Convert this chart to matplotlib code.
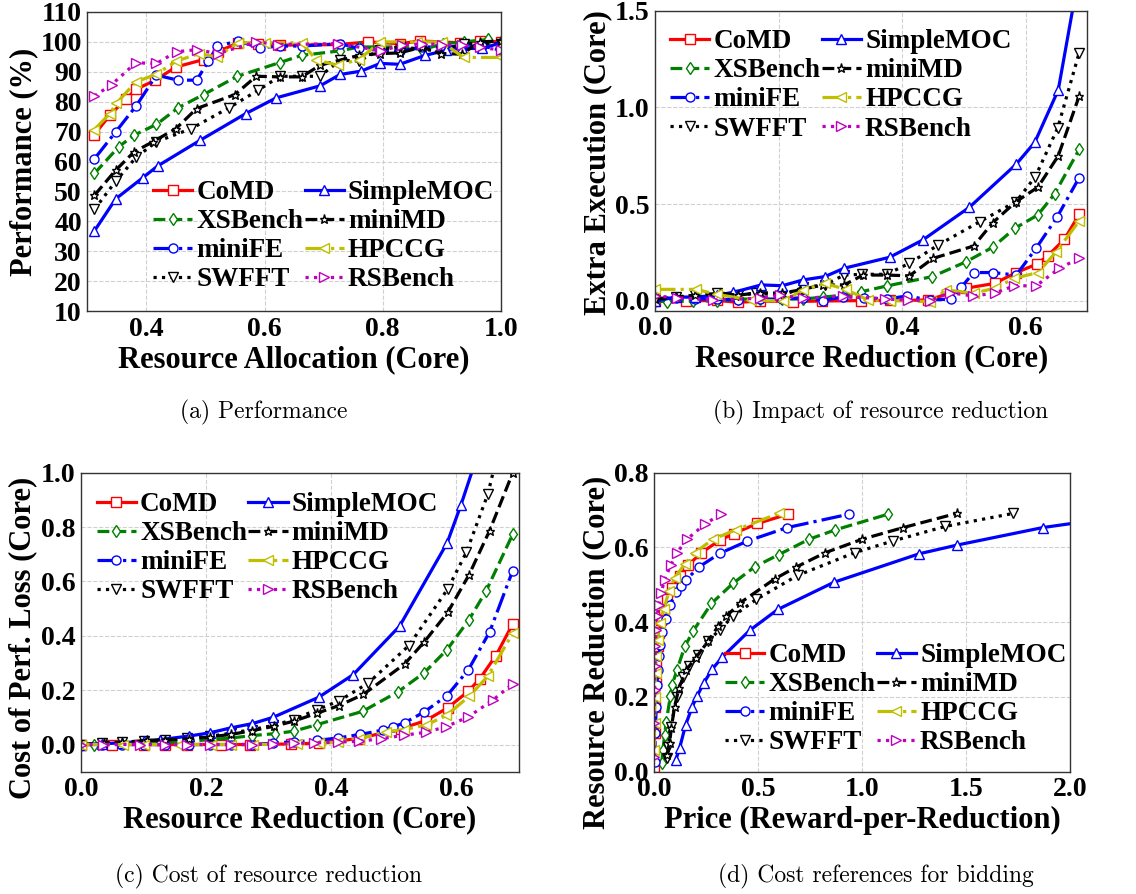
import matplotlib
matplotlib.use("Agg")
import matplotlib.pyplot as plt
from matplotlib.ticker import FormatStrFormatter

plt.rcParams['font.family'] = ['Liberation Serif', 'DejaVu Serif']
plt.rcParams['font.weight'] = 'bold'
plt.rcParams['axes.labelweight'] = 'bold'

ORDER = ["CoMD", "XSBench", "miniFE", "SWFFT", "SimpleMOC", "miniMD", "HPCCG", "RSBench"]

STYLES = {
    "CoMD": dict(color="r", ls="-", marker="s"),
    "XSBench": dict(color="g", ls="--", marker="d"),
    "miniFE": dict(color="b", ls="-.", marker="o"),
    "SWFFT": dict(color="k", ls=":", marker="v"),
    "SimpleMOC": dict(color="b", ls="-", marker="^"),
    "miniMD": dict(color="k", ls="--", marker="*"),
    "HPCCG": dict(color="y", ls="-.", marker="<"),
    "RSBench": dict(color="m", ls=":", marker=">"),
}

# (a) performance (%) vs. resource allocation (core)
perf = {
    "CoMD": ([0.312, 0.338, 0.365, 0.382, 0.415, 0.45, 0.497, 0.521, 0.555, 0.589, 0.626, 0.725, 0.776, 0.829, 0.864, 0.931, 0.965, 1.0],
             [69.0, 75.5, 80.8, 84.1, 87.2, 91.6, 94.1, 96.7, 99.7, 99.4, 98.9, 99.1, 100, 99.4, 100.3, 99.7, 100.3, 100]),
    "SimpleMOC": ([0.312, 0.348, 0.394, 0.419, 0.491, 0.568, 0.62, 0.694, 0.728, 0.763, 0.796, 0.829, 0.872, 0.908, 0.934, 0.969, 1.0],
                  [36.8, 47.5, 54.6, 58.5, 67.1, 76.0, 81.3, 85.3, 89.1, 90.2, 92.8, 92.5, 95.5, 97.2, 97.8, 97.8, 99.7]),
    "XSBench": ([0.312, 0.353, 0.379, 0.417, 0.454, 0.497, 0.554, 0.626, 0.663, 0.728, 0.76, 0.796, 0.832, 0.867, 0.903, 0.937, 0.979, 1.0],
                [56, 64.9, 68.8, 72.4, 78, 82.4, 88.5, 93.1, 95.5, 97, 98.3, 98.3, 98.3, 97.4, 99.4, 100, 100.8, 100]),
    "miniMD": ([0.312, 0.348, 0.379, 0.411, 0.45, 0.485, 0.55, 0.586, 0.626, 0.663, 0.694, 0.76, 0.796, 0.829, 0.867, 0.898, 0.934, 0.965, 1.0],
               [48.7, 57.1, 63.2, 66.6, 71, 77.7, 82.4, 88.5, 88.3, 88.3, 92.2, 95.5, 96.1, 96.3, 98.3, 96.1, 95.9, 100, 100.3]),
    "miniFE": ([0.312, 0.348, 0.383, 0.417, 0.453, 0.485, 0.505, 0.52, 0.555, 0.592, 0.626, 0.663, 0.728, 0.76, 0.796, 0.829, 0.867, 0.903, 0.937, 0.969, 1.0],
               [60.9, 69.9, 78.7, 88.9, 87.2, 87.2, 93.5, 98.6, 100.3, 98, 98.6, 98.6, 99.4, 97.8, 97.2, 96.9, 98.3, 98.3, 98.6, 98.6, 97.2]),
    "HPCCG": ([0.312, 0.338, 0.349, 0.382, 0.417, 0.45, 0.489, 0.519, 0.555, 0.6, 0.663, 0.688, 0.725, 0.76, 0.796, 0.858, 0.9, 0.937, 1.0],
              [70.7, 76, 79.4, 86.6, 89.2, 93.5, 96.1, 95, 99.7, 99.7, 99.7, 93.9, 92.2, 94.1, 100, 100, 100, 94.8, 94.8]),
    "SWFFT": ([0.312, 0.348, 0.383, 0.417, 0.476, 0.54, 0.589, 0.626, 0.663, 0.694, 0.728, 0.76, 0.796, 0.829, 0.898, 0.937, 1.0],
              [44, 53.4, 61.5, 66.6, 71, 78, 83.8, 88.5, 88.5, 88.5, 93.9, 93.6, 97.4, 98.3, 96.9, 99.4, 99.4]),
    "RSBench": ([0.312, 0.341, 0.382, 0.417, 0.451, 0.485, 0.521, 0.586, 0.623, 0.725, 0.798, 0.832, 0.867, 0.9, 0.934, 0.965, 1.0],
                [81.9, 85.7, 93, 92.8, 96.7, 97.4, 96.1, 100, 99.1, 99.4, 97, 98.9, 99.4, 99.1, 98.9, 98.3, 97.2]),
}

# (b) extra execution (core) vs. resource reduction (core)
extra = {
    "CoMD": ([0, 0.05, 0.1, 0.135, 0.17, 0.223, 0.27, 0.333, 0.38, 0.442, 0.504, 0.55, 0.585, 0.618, 0.636, 0.663, 0.687],
             [0.0, 0.0, 0.003, -0.007, 0.0, -0.003, 0.0, 0.002, 0.003, 0.005, 0.066, 0.091, 0.147, 0.19, 0.233, 0.319, 0.448]),
    "SimpleMOC": ([0, 0.034, 0.065, 0.1, 0.127, 0.172, 0.206, 0.24, 0.275, 0.306, 0.38, 0.434, 0.509, 0.585, 0.615, 0.653, 0.69],
                  [0.0, 0.02, 0.02, 0.03, 0.045, 0.083, 0.079, 0.109, 0.126, 0.169, 0.226, 0.316, 0.484, 0.707, 0.82, 1.09, 1.75]),
    "XSBench": ([0, 0.019, 0.062, 0.1, 0.134, 0.17, 0.206, 0.24, 0.272, 0.306, 0.334, 0.376, 0.449, 0.504, 0.547, 0.583, 0.62, 0.647, 0.687],
                [0.0, -0.003, 0.0, 0.0, 0.01, 0.01, 0.01, 0.01, 0.02, 0.03, 0.048, 0.078, 0.126, 0.203, 0.278, 0.376, 0.445, 0.553, 0.784]),
    "miniMD": ([0, 0.034, 0.065, 0.105, 0.134, 0.17, 0.206, 0.234, 0.272, 0.306, 0.337, 0.375, 0.412, 0.45, 0.516, 0.547, 0.585, 0.62, 0.653, 0.687],
               [0.01, 0.02, 0.03, 0.04, 0.03, 0.043, 0.04, 0.057, 0.083, 0.083, 0.134, 0.134, 0.13, 0.22, 0.284, 0.405, 0.514, 0.588, 0.75, 1.06]),
    "miniFE": ([0, 0.034, 0.065, 0.1, 0.134, 0.17, 0.206, 0.24, 0.272, 0.305, 0.339, 0.375, 0.408, 0.445, 0.48, 0.496, 0.516, 0.547, 0.585, 0.617, 0.651, 0.687],
               [0.014, 0.014, 0.01, 0.01, 0.005, 0.01, 0.01, 0.017, 0.002, 0.022, 0.017, 0.01, 0.026, 0.005, 0.01, 0.071, 0.147, 0.147, 0.134, 0.272, 0.433, 0.638]),
    "HPCCG": ([0, 0.067, 0.1, 0.156, 0.208, 0.24, 0.275, 0.309, 0.345, 0.38, 0.445, 0.472, 0.516, 0.55, 0.582, 0.62, 0.65, 0.687],
              [0.06, 0.06, 0.034, 0.005, 0.0, 0.057, 0.091, 0.06, 0.005, 0.002, -0.003, 0.057, 0.04, 0.066, 0.117, 0.147, 0.255, 0.414]),
    "SWFFT": ([0, 0.034, 0.065, 0.1, 0.134, 0.164, 0.206, 0.24, 0.275, 0.306, 0.335, 0.375, 0.412, 0.459, 0.526, 0.585, 0.616, 0.652, 0.687],
              [0.01, 0.02, 0.03, 0.04, 0.03, 0.04, 0.03, 0.07, 0.083, 0.134, 0.138, 0.138, 0.195, 0.29, 0.41, 0.514, 0.643, 0.893, 1.284]),
    "RSBench": ([0, 0.035, 0.094, 0.17, 0.202, 0.24, 0.305, 0.372, 0.41, 0.445, 0.477, 0.515, 0.55, 0.582, 0.617, 0.655, 0.687],
                [0.026, 0.017, 0.005, 0.014, 0.031, 0.014, 0.026, 0.01, 0.005, 0.002, 0.043, 0.026, 0.04, 0.079, 0.078, 0.169, 0.221]),
}

# (c) cost of performance loss (core) vs. resource reduction (core)
cost = {
    "CoMD": ([0, 0.05, 0.1, 0.135, 0.17, 0.223, 0.27, 0.335, 0.38, 0.444, 0.511, 0.551, 0.586, 0.619, 0.637, 0.663, 0.69],
             [0, 0, 0, 0, 0, 0, 0, 0.002, 0.005, 0.022, 0.058, 0.088, 0.135, 0.196, 0.241, 0.327, 0.444]),
    "SimpleMOC": ([0, 0.034, 0.065, 0.1, 0.127, 0.172, 0.206, 0.239, 0.274, 0.307, 0.38, 0.435, 0.509, 0.585, 0.607, 0.653, 0.69],
                  [0, 0.003, 0.006, 0.012, 0.018, 0.031, 0.043, 0.061, 0.077, 0.1, 0.174, 0.257, 0.435, 0.741, 0.88, 1.2, 1.65]),
    "XSBench": ([0, 0.02, 0.065, 0.1, 0.134, 0.172, 0.206, 0.24, 0.274, 0.31, 0.34, 0.377, 0.45, 0.506, 0.548, 0.585, 0.62, 0.647, 0.69],
                [0, 0.0, 0.004, 0.006, 0.008, 0.012, 0.018, 0.024, 0.033, 0.04, 0.049, 0.073, 0.122, 0.193, 0.263, 0.349, 0.459, 0.563, 0.774]),
    "miniMD": ([0, 0.036, 0.065, 0.105, 0.134, 0.172, 0.206, 0.239, 0.274, 0.308, 0.34, 0.377, 0.412, 0.451, 0.517, 0.548, 0.586, 0.62, 0.653, 0.69],
               [0, 0.006, 0.008, 0.015, 0.017, 0.021, 0.028, 0.037, 0.051, 0.067, 0.086, 0.115, 0.143, 0.184, 0.296, 0.376, 0.486, 0.624, 0.787, 1.0]),
    "miniFE": ([0, 0.034, 0.065, 0.1, 0.134, 0.172, 0.206, 0.239, 0.274, 0.307, 0.34, 0.377, 0.41, 0.446, 0.482, 0.498, 0.517, 0.548, 0.585, 0.619, 0.653, 0.69],
               [0, 0, 0, 0, 0, 0, 0, 0, 0, 0.005, 0.01, 0.015, 0.024, 0.037, 0.053, 0.064, 0.08, 0.119, 0.18, 0.275, 0.414, 0.64]),
    "HPCCG": ([0, 0.067, 0.1, 0.156, 0.208, 0.24, 0.275, 0.345, 0.38, 0.41, 0.445, 0.488, 0.516, 0.551, 0.584, 0.62, 0.65, 0.69],
              [0, 0, 0, 0, 0, 0, 0, 0.002, 0.004, 0.008, 0.022, 0.047, 0.055, 0.071, 0.107, 0.177, 0.251, 0.41]),
    "SWFFT": ([0, 0.034, 0.065, 0.1, 0.134, 0.17, 0.206, 0.24, 0.274, 0.307, 0.34, 0.377, 0.412, 0.459, 0.524, 0.586, 0.616, 0.65, 0.69],
              [0, 0.004, 0.008, 0.013, 0.018, 0.024, 0.03, 0.042, 0.055, 0.07, 0.092, 0.128, 0.16, 0.226, 0.364, 0.572, 0.708, 0.92, 1.3]),
    "RSBench": ([0, 0.035, 0.094, 0.134, 0.17, 0.206, 0.24, 0.274, 0.307, 0.34, 0.372, 0.41, 0.444, 0.479, 0.516, 0.551, 0.583, 0.619, 0.658, 0.69],
                [0, 0, 0, 0, 0, 0, 0, 0, 0.002, 0.004, 0.006, 0.009, 0.012, 0.021, 0.034, 0.045, 0.065, 0.102, 0.163, 0.223]),
}

# (d) resource reduction (core) vs. price (reward-per-reduction)
bids = {
    "CoMD": ([0.002, 0.003, 0.005, 0.008, 0.011, 0.018, 0.024, 0.035, 0.048, 0.064, 0.088, 0.123, 0.164, 0.228, 0.316, 0.383, 0.497, 0.645],
             [0.013, 0.103, 0.174, 0.237, 0.291, 0.335, 0.371, 0.407, 0.434, 0.461, 0.492, 0.523, 0.552, 0.586, 0.619, 0.637, 0.664, 0.689]),
    "SimpleMOC": ([0.104, 0.123, 0.152, 0.184, 0.208, 0.239, 0.281, 0.329, 0.46, 0.595, 0.866, 1.275, 1.455, 1.868, 2.3],
                  [0.03, 0.063, 0.125, 0.174, 0.203, 0.237, 0.275, 0.307, 0.378, 0.434, 0.507, 0.583, 0.606, 0.653, 0.687]),
    "XSBench": ([0.037, 0.043, 0.051, 0.059, 0.079, 0.088, 0.111, 0.148, 0.188, 0.276, 0.38, 0.484, 0.601, 0.746, 0.872, 1.126],
                [0.022, 0.058, 0.098, 0.134, 0.203, 0.233, 0.273, 0.335, 0.376, 0.45, 0.504, 0.548, 0.581, 0.622, 0.647, 0.689]),
    "miniMD": ([0.064, 0.075, 0.083, 0.099, 0.12, 0.156, 0.2, 0.26, 0.308, 0.348, 0.415, 0.581, 0.682, 0.824, 1.001, 1.198, 1.455],
               [0.045, 0.076, 0.116, 0.174, 0.224, 0.273, 0.304, 0.349, 0.389, 0.416, 0.452, 0.516, 0.547, 0.586, 0.622, 0.653, 0.691]),
    "miniFE": ([0.003, 0.006, 0.011, 0.014, 0.019, 0.024, 0.03, 0.04, 0.056, 0.075, 0.107, 0.128, 0.156, 0.217, 0.316, 0.449, 0.64, 0.938],
               [0.027, 0.103, 0.174, 0.233, 0.273, 0.309, 0.34, 0.373, 0.409, 0.445, 0.48, 0.496, 0.514, 0.548, 0.584, 0.617, 0.653, 0.689]),
    "HPCCG": ([0.002, 0.003, 0.005, 0.008, 0.011, 0.018, 0.027, 0.047, 0.072, 0.099, 0.148, 0.196, 0.284, 0.393, 0.601],
              [0.058, 0.13, 0.201, 0.264, 0.309, 0.353, 0.398, 0.434, 0.483, 0.519, 0.555, 0.586, 0.622, 0.647, 0.691]),
    "SWFFT": ([0.064, 0.069, 0.08, 0.111, 0.14, 0.168, 0.212, 0.26, 0.316, 0.38, 0.492, 0.69, 0.965, 1.147, 1.399, 1.727],
              [0.036, 0.067, 0.119, 0.201, 0.253, 0.282, 0.313, 0.349, 0.38, 0.416, 0.461, 0.525, 0.586, 0.617, 0.656, 0.691]),
    "RSBench": ([0.0, 0.002, 0.003, 0.005, 0.006, 0.01, 0.014, 0.024, 0.035, 0.051, 0.08, 0.111, 0.159, 0.244, 0.321],
                [0.04, 0.13, 0.219, 0.282, 0.335, 0.38, 0.416, 0.447, 0.479, 0.514, 0.552, 0.586, 0.622, 0.662, 0.689]),
}


def draw_panel(ax, data, xlim, ylim, xticks, yticks, xfmt, yfmt,
               xlabel, ylabel, ylabel_pos, legend_anchor):
    for name in ORDER:
        x, y = data[name]
        ax.plot(x, y, label=name, lw=2.3, ms=6.5, mfc='white', mew=1.0,
                **STYLES[name])
    ax.set_xlim(*xlim)
    ax.set_ylim(*ylim)
    ax.set_xticks(xticks)
    ax.set_yticks(yticks)
    ax.xaxis.set_major_formatter(FormatStrFormatter(xfmt))
    ax.yaxis.set_major_formatter(FormatStrFormatter(yfmt))
    ax.tick_params(length=0, pad=4, labelsize=20)
    ax.grid(True, ls='--', lw=0.8, color='#d0d0d0')
    for sp in ax.spines.values():
        sp.set_color('#333333')
        sp.set_linewidth(1.0)
    ax.set_xlabel(xlabel, fontsize=22, fontweight='bold')
    ax.set_ylabel(ylabel, fontsize=22, fontweight='bold')
    ax.xaxis.set_label_coords(0.5, -0.113)
    ax.yaxis.set_label_coords(*ylabel_pos)
    ax.legend(ncol=2, loc='upper left', bbox_to_anchor=legend_anchor,
              frameon=False, fontsize=19.5, handlelength=1.45, handletextpad=0.15,
              columnspacing=0.05, labelspacing=0.15, borderpad=0,
              borderaxespad=0, numpoints=1)


fig = plt.figure(figsize=(11.36, 8.94), dpi=100)

ax_a = fig.add_axes([0.0769, 0.6521, 0.3639, 0.3345])
draw_panel(ax_a, perf, (0.3, 1.0), (10, 110), [0.4, 0.6, 0.8, 1.0], range(10, 111, 10),
           '%.1f', '%d', 'Resource Allocation (Core)', 'Performance (%)',
           (-0.12, 0.5), (0.159, 0.438))

ax_b = fig.add_axes([0.5766, 0.6525, 0.3805, 0.3355])
draw_panel(ax_b, extra, (0.0, 0.7), (-0.05, 1.5), [0.0, 0.2, 0.4, 0.6], [0.0, 0.5, 1.0, 1.5],
           '%.1f', '%.1f', 'Resource Reduction (Core)', 'Extra Execution (Core)',
           (-0.1, 0.495), (0.035, 0.938))

ax_c = fig.add_axes([0.0713, 0.1368, 0.3856, 0.3345])
draw_panel(ax_c, cost, (0.0, 0.7), (-0.1, 1.0), [0.0, 0.2, 0.4, 0.6], [0.0, 0.2, 0.4, 0.6, 0.8, 1.0],
           '%.1f', '%.1f', 'Resource Reduction (Core)', 'Cost of Perf. Loss (Core)',
           (-0.1, 0.447), (0.036, 0.935))

ax_d = fig.add_axes([0.5757, 0.1368, 0.3662, 0.3345])
draw_panel(ax_d, bids, (0.0, 2.0), (0.0, 0.8), [0.0, 0.5, 1.0, 1.5, 2.0], [0.0, 0.2, 0.4, 0.6, 0.8],
           '%.1f', '%.1f', 'Price (Reward-per-Reduction)', 'Resource Reduction (Core)',
           (-0.103, 0.40), (0.171, 0.43))

captions = [
    (0.232, 0.539, '(a) Performance'),
    (0.775, 0.539, '(b) Impact of resource reduction'),
    (0.236, 0.020, '(c) Cost of resource reduction'),
    (0.771, 0.020, '(d) Cost references for bidding'),
]
for cx, cy, text in captions:
    fig.text(cx, cy, text, ha='center', va='center', family='cmr10',
             fontweight='normal', fontsize=17)

fig.savefig('out.png', dpi=100)
